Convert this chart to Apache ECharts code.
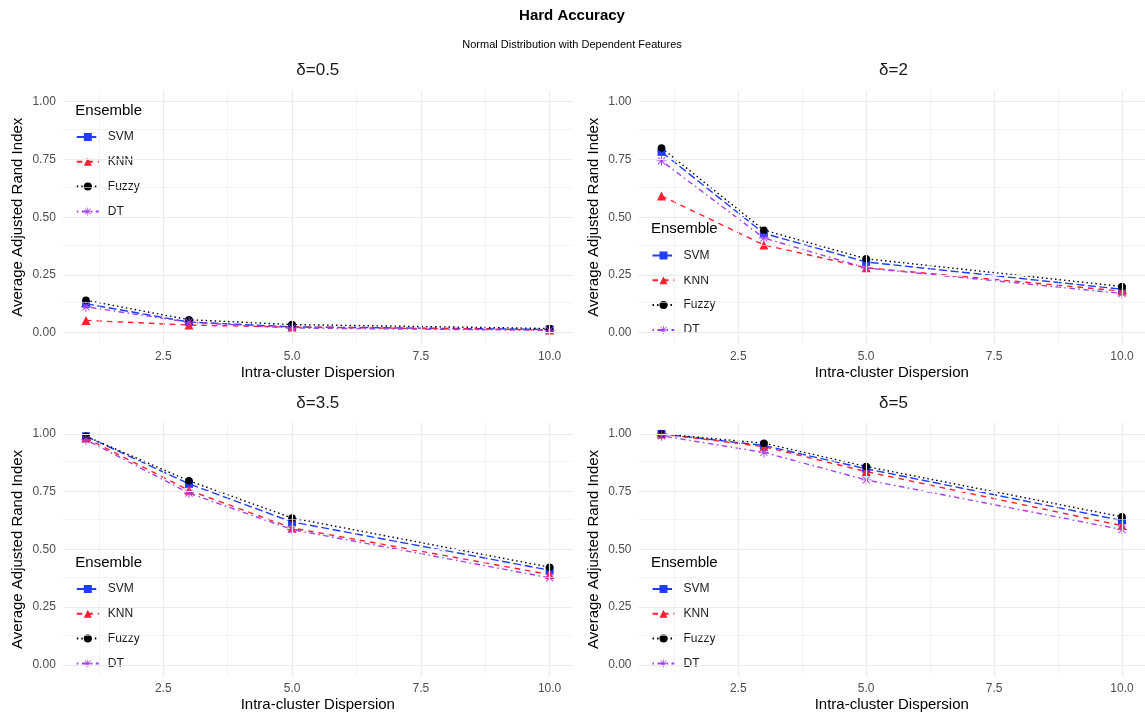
<!DOCTYPE html>
<html>
<head>
<meta charset="utf-8">
<script src="https://cdn.jsdelivr.net/npm/echarts@6/dist/echarts.min.js"></script>
<style>
  html, body { margin: 0; padding: 0; background: #fff; }
  #chart { width: 1145px; height: 717px; }
</style>
</head>
<body>
<div id="chart"></div>
<script>
// data
const xValues = [1, 3, 5, 10]
const panelTitles = ['δ=0.5', 'δ=2', 'δ=3.5', 'δ=5']
const methods = ['SVM', 'KNN', 'Fuzzy', 'DT']
// one row per panel, in panel order
const svmVals = [
  [0.125, 0.046, 0.025, 0.014],
  [0.783, 0.430, 0.306, 0.188],
  [0.990, 0.784, 0.619, 0.410],
  [1.000, 0.950, 0.849, 0.625]
]
const knnVals = [
  [0.053, 0.033, 0.024, 0.012],
  [0.592, 0.380, 0.281, 0.180],
  [0.982, 0.756, 0.593, 0.391],
  [1.000, 0.945, 0.837, 0.603]
]
const fuzzyVals = [
  [0.140, 0.056, 0.035, 0.018],
  [0.800, 0.444, 0.320, 0.200],
  [0.990, 0.797, 0.636, 0.423],
  [1.000, 0.960, 0.859, 0.641]
]
const dtVals = [
  [0.112, 0.045, 0.020, 0.010],
  [0.744, 0.410, 0.280, 0.170],
  [0.975, 0.744, 0.586, 0.377],
  [0.992, 0.920, 0.801, 0.586]
]
const xTicks = [2.5, 5, 7.5, 10]
const xMinor = [1.25, 3.75, 6.25, 8.75]
const yTicks = [0, 0.25, 0.5, 0.75, 1]
const yMinor = [0.125, 0.375, 0.625, 0.875]

const FONT = 'Liberation Sans, Arial, sans-serif'

// asterisk marker (pch 8) built from four thin bars
function asteriskPath () {
  let d = ''
  const t = 0.09
  for (let k = 0; k < 4; k++) {
    const a = k * Math.PI / 4
    const c = Math.cos(a), s = Math.sin(a)
    const pts = [[-1, -t], [1, -t], [1, t], [-1, t]].map(([x, y]) =>
      [(x * c - y * s + 1) * 10, (x * s + y * c + 1) * 10])
    d += 'M' + pts.map(p => p[0].toFixed(2) + ' ' + p[1].toFixed(2)).join('L') + 'Z'
  }
  return 'path://' + d
}

const styles = {
  SVM: { color: '#1f3cff', dash: [8, 3.5], symbol: 'rect', size: 8 },
  KNN: { color: '#ff1f2e', dash: [5.5, 5], symbol: 'triangle', size: 9 },
  Fuzzy: { color: '#000000', dash: [1.5, 3], symbol: 'circle', size: 7.5 },
  DT: { color: '#a43ff0', dash: [1.5, 3.5, 5.5, 3.5], symbol: asteriskPath(), size: 10 }
}
const valsByMethod = { SVM: svmVals, KNN: knnVals, Fuzzy: fuzzyVals, DT: dtVals }

// legendMid = centre of first legend row, ensembleTop = top of legend title
const panels = [
  { left: 62.8, top: 90.2, legendMid: 137, ensembleTop: 103 },
  { left: 638.5, top: 90.2, legendMid: 255.5, ensembleTop: 221 },
  { left: 62.8, top: 422.4, legendMid: 589, ensembleTop: 555 },
  { left: 638.5, top: 422.4, legendMid: 589, ensembleTop: 555 }
]
const PW = 510
const PH = 254
const LEG_H = 10
const ROW_H = 12

const grid = [], xAxis = [], yAxis = [], series = [], legend = []
const title = [
  { text: 'Hard Accuracy', left: 572, top: 8, textAlign: 'center', padding: 0,
    textStyle: { fontFamily: FONT, fontSize: 15, fontWeight: 'bold', color: '#000' } },
  { text: 'Normal Distribution with Dependent Features', left: 572, top: 39, textAlign: 'center', padding: 0,
    textStyle: { fontFamily: FONT, fontSize: 11, fontWeight: 'normal', color: '#000' } }
]

panels.forEach((p, i) => {
  grid.push({ left: p.left, top: p.top, width: PW, height: PH, containLabel: false })
  xAxis.push({
    type: 'value', gridIndex: i, min: 0.55, max: 10.45,
    name: 'Intra-cluster Dispersion', nameLocation: 'middle', nameGap: 21,
    nameTextStyle: { fontFamily: FONT, fontSize: 15, color: '#000' },
    axisLine: { show: false }, axisTick: { show: false }, splitLine: { show: false },
    axisLabel: { customValues: xTicks, formatter: v => v.toFixed(1), margin: 6,
      fontFamily: FONT, fontSize: 12, color: '#4d4d4d' }
  })
  yAxis.push({
    type: 'value', gridIndex: i, min: -0.05, max: 1.05,
    name: 'Average Adjusted Rand Index', nameLocation: 'middle', nameGap: 37, nameRotate: 90,
    nameTextStyle: { fontFamily: FONT, fontSize: 15, color: '#000' },
    axisLine: { show: false }, axisTick: { show: false }, splitLine: { show: false },
    axisLabel: { customValues: yTicks, formatter: v => v.toFixed(2), margin: 7,
      fontFamily: FONT, fontSize: 12, color: '#4d4d4d' }
  })
  title.push({ text: panelTitles[i], left: p.left + PW / 2, top: p.top - 28, textAlign: 'center', padding: 0,
    textStyle: { fontFamily: FONT, fontSize: 17, fontWeight: 'normal', color: '#1a1a1a' } })
  title.push({ text: 'Ensemble', left: p.left + 12.5, top: p.ensembleTop, padding: 0,
    textStyle: { fontFamily: FONT, fontSize: 15, fontWeight: 'normal', color: '#000' } })

  // panel gridlines
  const gl = []
  xMinor.forEach(v => gl.push({ xAxis: v, lineStyle: { width: 0.6 } }))
  xTicks.forEach(v => gl.push({ xAxis: v, lineStyle: { width: 1.2 } }))
  yMinor.forEach(v => gl.push({ yAxis: v, lineStyle: { width: 0.6 } }))
  yTicks.forEach(v => gl.push({ yAxis: v, lineStyle: { width: 1.2 } }))
  series.push({
    name: 'gridlines', type: 'line', xAxisIndex: i, yAxisIndex: i, data: [], silent: true, z: 1,
    markLine: { silent: true, symbol: 'none', animation: false, label: { show: false },
      lineStyle: { color: '#ebebeb', type: 'solid' }, data: gl }
  })

  methods.forEach(m => {
    const st = styles[m]
    series.push({
      name: m, type: 'line', xAxisIndex: i, yAxisIndex: i, z: 3,
      data: xValues.map((x, k) => [x, valsByMethod[m][i][k]]),
      symbol: st.symbol, symbolSize: st.size, showAllSymbol: true,
      lineStyle: { color: st.color, width: 1.4, type: st.dash },
      itemStyle: { color: st.color },
      emphasis: { disabled: true },
      animation: false
    })
  })

  legend.push({
    data: methods, orient: 'vertical', left: p.left + 13, top: p.legendMid - ROW_H / 2,
    padding: 0, itemWidth: 22, itemHeight: LEG_H, itemGap: 24.8 - ROW_H, selectedMode: false,
    textStyle: { fontFamily: FONT, fontSize: 12, color: '#1a1a1a', padding: [0, 0, 0, 4] }
  })
})

const chart = echarts.init(document.getElementById('chart'))
chart.setOption({
  backgroundColor: '#fff',
  animation: false,
  title, grid, xAxis, yAxis, legend, series
})
</script>
</body>
</html>
